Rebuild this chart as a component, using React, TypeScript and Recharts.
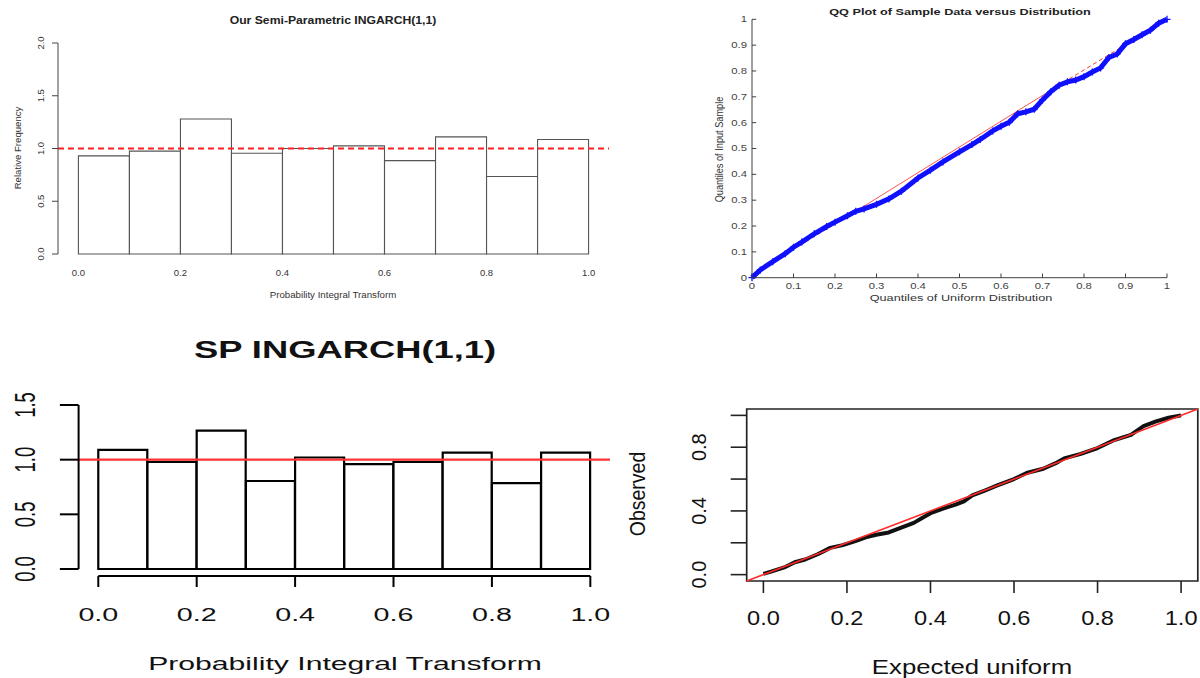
import React from 'react';
import { ComposedChart, Bar, Line, Scatter, XAxis, YAxis, ReferenceLine, ReferenceArea } from 'recharts';

const FONT = '"Liberation Sans", Arial, Helvetica, sans-serif';

// histograms (PIT, 10 bins)
const binMids = [0.05, 0.15, 0.25, 0.35, 0.45, 0.55, 0.65, 0.75, 0.85, 0.95];
const semiParFreq = [0.93, 0.975, 1.28, 0.955, 1.0, 1.025, 0.885, 1.11, 0.735, 1.085];
const spFreq = [1.09, 0.98, 1.265, 0.805, 1.02, 0.96, 0.98, 1.065, 0.785, 1.065];
const pitTicks = [0, 0.2, 0.4, 0.6, 0.8, 1];
const freqTicksTop = [0, 0.5, 1, 1.5, 2];
const freqTicksBottom = [0, 0.5, 1, 1.5];

// QQ plot (matlab style)
const uniformQ = [0, 0.02, 0.05, 0.08, 0.1, 0.12, 0.15, 0.18, 0.2, 0.23, 0.25, 0.27, 0.3, 0.33, 0.36, 0.4, 0.43, 0.46, 0.5, 0.53, 0.55, 0.58, 0.6, 0.62, 0.64, 0.66, 0.68, 0.7, 0.72, 0.74, 0.76, 0.78, 0.8, 0.82, 0.84, 0.86, 0.88, 0.9, 0.92, 0.94, 0.96, 0.98, 1.0];
const sampleQ = [0, 0.03, 0.062, 0.093, 0.118, 0.138, 0.17, 0.198, 0.215, 0.24, 0.257, 0.266, 0.284, 0.305, 0.335, 0.386, 0.416, 0.448, 0.487, 0.515, 0.535, 0.568, 0.586, 0.602, 0.634, 0.642, 0.652, 0.688, 0.72, 0.745, 0.758, 0.765, 0.778, 0.796, 0.812, 0.852, 0.866, 0.905, 0.922, 0.94, 0.958, 0.985, 1.0];
const qqTicks = [0, 0.1, 0.2, 0.3, 0.4, 0.5, 0.6, 0.7, 0.8, 0.9, 1];
// reference line through the quartiles, extended to the ends
const qqLineX = [0, 0.25, 0.75, 1];
const qqLineY = [0.012, 0.257, 0.755, 1.0];

// uniform QQ (R style)
const expectedU = [0, 0.02, 0.05, 0.075, 0.1, 0.13, 0.16, 0.19, 0.22, 0.25, 0.27, 0.3, 0.33, 0.36, 0.38, 0.4, 0.43, 0.46, 0.48, 0.5, 0.53, 0.56, 0.6, 0.63, 0.67, 0.7, 0.72, 0.76, 0.8, 0.84, 0.88, 0.91, 0.94, 0.97, 1.0];
const observedU = [0.005, 0.02, 0.045, 0.078, 0.095, 0.128, 0.168, 0.185, 0.21, 0.238, 0.25, 0.265, 0.295, 0.325, 0.355, 0.386, 0.415, 0.44, 0.46, 0.498, 0.528, 0.56, 0.6, 0.638, 0.665, 0.7, 0.73, 0.758, 0.795, 0.845, 0.878, 0.932, 0.962, 0.985, 1.0];
const unifTicks = [0, 0.2, 0.4, 0.6, 0.8, 1];
const unifLabelled = [0, 0.4, 0.8];

const histTop = binMids.map((m, i) => ({ mid: m, freq: semiParFreq[i] }));
const histBottom = binMids.map((m, i) => ({ mid: m, freq: spFreq[i] }));
const qqData = uniformQ.map((x, i) => ({ x, y: sampleQ[i] }));
const qqSolid = qqLineX.slice(1, 3).map((x, i) => ({ x, y: qqLineY[i + 1] }));
const qqDashLo = qqLineX.slice(0, 2).map((x, i) => ({ x, y: qqLineY[i] }));
const qqDashHi = qqLineX.slice(2, 4).map((x, i) => ({ x, y: qqLineY[i + 2] }));
const unifData = expectedU.map((x, i) => ({ x, y: observedU[i] }));

const Txt = ({ x, y, size, sx = 1, rot = 0, anchor = 'middle', weight = 400, fill = '#000', children }: any) => (
  <text
    transform={`translate(${x} ${y}) scale(${sx} 1) rotate(${rot})`}
    fontSize={size}
    fontFamily={FONT}
    fontWeight={weight}
    fill={fill}
    textAnchor={anchor}
    dominantBaseline="central"
  >
    {children}
  </text>
);

const fmt1 = (v: number) => v.toFixed(1);
const fmtQQ = (v: number) => (v === 0 || v === 1 ? String(v) : v.toFixed(1));

export default function App() {
  return (
    <div style={{ position: 'absolute', left: 0, top: 0, width: 1200, height: 678, background: '#fff', overflow: 'hidden' }}>
      {/* top left: semi-parametric histogram */}
      <div style={{ position: 'absolute', left: 0, top: 0 }}>
        <ComposedChart width={620} height={310} data={histTop} margin={{ top: 43, right: 11, bottom: 26, left: 8 }} barCategoryGap={0} barGap={0}>
          <XAxis
            dataKey="mid"
            type="number"
            domain={[-0.04, 1.04]}
            ticks={pitTicks}
            interval={0}
            axisLine={false}
            tickLine={false}
            height={30}
            tick={(p: any) => <Txt x={p.x} y={272} size={9.5} fill="#333">{fmt1(p.payload.value)}</Txt>}
          />
          <YAxis
            type="number"
            domain={[0, 2]}
            ticks={freqTicksTop}
            interval={0}
            width={50}
            tickSize={6}
            stroke="#444"
            tick={(p: any) => <Txt x={40} y={p.y} size={9.5} rot={-90} fill="#333">{fmt1(p.payload.value)}</Txt>}
          />
          <Bar dataKey="freq" fill="#fff" stroke="#555" strokeWidth={1.1} isAnimationActive={false} />
          <ReferenceLine y={1} stroke="#ff2020" strokeWidth={1.8} strokeDasharray="6 4" />
        </ComposedChart>
      </div>

      {/* top right: QQ plot */}
      <div style={{ position: 'absolute', left: 600, top: 0 }}>
        <ComposedChart width={600} height={310} margin={{ top: 19.3, right: 33, bottom: 12.3, left: 92 }}>
          <XAxis
            dataKey="x"
            type="number"
            domain={[0, 1]}
            ticks={qqTicks}
            interval={0}
            height={20}
            stroke="#404040"
            tickLine={false}
            tick={(p: any) => (
              <g>
                <line x1={p.x} x2={p.x} y1={277.7} y2={273.5} stroke="#404040" />
                <Txt x={p.x} y={286} size={8.2} sx={1.38} fill="#444">{fmtQQ(p.payload.value)}</Txt>
              </g>
            )}
          />
          <YAxis
            type="number"
            domain={[0, 1]}
            ticks={qqTicks}
            interval={0}
            width={60}
            stroke="#404040"
            tickLine={false}
            tick={(p: any) => (
              <g>
                <line x1={152} x2={156.2} y1={p.y} y2={p.y} stroke="#404040" />
                <Txt x={147} y={p.y} size={8.2} sx={1.38} anchor="end" fill="#444">{fmtQQ(p.payload.value)}</Txt>
              </g>
            )}
          />
          <Line data={qqDashLo} dataKey="y" stroke="#ff3030" strokeWidth={1} strokeDasharray="4 3" dot={false} isAnimationActive={false} />
          <Line data={qqDashHi} dataKey="y" stroke="#ff3030" strokeWidth={1} strokeDasharray="4 3" dot={false} isAnimationActive={false} />
          <Scatter
            data={qqData}
            dataKey="y"
            fill="#1010ff"
            line={{ stroke: '#1010ff', strokeWidth: 5 }}
            isAnimationActive={false}
            shape={(p: any) => (
              <path d={`M${p.cx - 3.5},${p.cy}h7M${p.cx},${p.cy - 3.5}v7`} stroke="#1010ff" strokeWidth={1.3} />
            )}
          />
          <Line data={qqSolid} dataKey="y" stroke="#ff4040" strokeWidth={0.9} dot={false} isAnimationActive={false} />
        </ComposedChart>
      </div>

      {/* bottom left: SP INGARCH histogram */}
      <div style={{ position: 'absolute', left: 0, top: 330 }}>
        <ComposedChart width={620} height={348} data={histBottom} margin={{ top: 75, right: 10, bottom: 49, left: 18.6 }} barCategoryGap={0} barGap={0}>
          <XAxis
            dataKey="mid"
            type="number"
            domain={[-0.04, 1.04]}
            ticks={pitTicks}
            interval={0}
            axisLine={false}
            tickLine={false}
            height={60}
            tick={(p: any) => (
              <g>
                <line x1={p.x} x2={p.x} y1={246} y2={257} stroke="#000" strokeWidth={2} />
                <Txt x={p.x} y={284} size={18.5} sx={1.55} fill="#111">{fmt1(p.payload.value)}</Txt>
              </g>
            )}
          />
          <YAxis
            type="number"
            domain={[0, 1.5]}
            ticks={freqTicksBottom}
            interval={0}
            width={60}
            tickSize={18.7}
            axisLine={{ stroke: '#000', strokeWidth: 2 }}
            tickLine={{ stroke: '#000', strokeWidth: 2 }}
            tick={(p: any) => <Txt x={25} y={p.y} size={18.5} sx={1.59} rot={-90} fill="#111">{fmt1(p.payload.value)}</Txt>}
          />
          <ReferenceLine segment={[{ x: 0, y: -0.064 }, { x: 1, y: -0.064 }]} ifOverflow="visible" stroke="#000" strokeWidth={2} />
          <Bar dataKey="freq" fill="#fff" stroke="#000" strokeWidth={2.2} isAnimationActive={false} />
          <ReferenceLine y={1} stroke="#ff3535" strokeWidth={2.2} />
        </ComposedChart>
      </div>

      {/* bottom right: uniform QQ */}
      <div style={{ position: 'absolute', left: 600, top: 380 }}>
        <ComposedChart width={600} height={298} margin={{ top: 29, right: 2.2, bottom: 47, left: 66.7 }}>
          <XAxis
            dataKey="x"
            type="number"
            domain={[-0.04, 1.04]}
            ticks={unifTicks}
            interval={0}
            height={50}
            axisLine={false}
            tickSize={12}
            tickLine={{ stroke: '#222', strokeWidth: 1.6 }}
            tick={(p: any) => <Txt x={p.x} y={238} size={20} sx={1.18} fill="#111">{fmt1(p.payload.value)}</Txt>}
          />
          <YAxis
            type="number"
            domain={[-0.04, 1.04]}
            ticks={unifTicks}
            interval={0}
            width={80}
            axisLine={false}
            tickSize={16}
            tickLine={{ stroke: '#222', strokeWidth: 1.6 }}
            tick={(p: any) =>
              unifLabelled.includes(p.payload.value) ? (
                <Txt x={98.3} y={p.y} size={20} sx={1.05} rot={-90} fill="#111">{fmt1(p.payload.value)}</Txt>
              ) : (
                <g />
              )
            }
          />
          <ReferenceArea x1={-0.04} x2={1.04} y1={-0.04} y2={1.04} fill="none" stroke="#222" strokeWidth={1.7} />
          <Line data={unifData} dataKey="y" stroke="#111" strokeWidth={4} strokeLinejoin="round" dot={false} isAnimationActive={false} />
          <ReferenceLine segment={[{ x: -0.04, y: -0.04 }, { x: 1.04, y: 1.04 }]} stroke="#ff2a2a" strokeWidth={1.6} />
        </ComposedChart>
      </div>

      {/* titles and axis labels */}
      <svg width={1200} height={678} style={{ position: 'absolute', left: 0, top: 0, pointerEvents: 'none' }}>
        <Txt x={333} y={20} size={11.3} sx={1.08} weight={700} fill="#222">Our Semi-Parametric INGARCH(1,1)</Txt>
        <Txt x={333} y={294} size={9.7} fill="#333">Probability Integral Transform</Txt>
        <Txt x={17} y={148} size={9.6} rot={-90} fill="#333">Relative Frequency</Txt>

        <Txt x={960} y={12} size={9.2} sx={1.38} weight={700} fill="#222">QQ Plot of Sample Data versus Distribution</Txt>
        <Txt x={961} y={298} size={9.2} sx={1.38} fill="#333">Quantiles of Uniform Distribution</Txt>
        <Txt x={719.4} y={149.5} size={9.2} sx={1.1} rot={-90} fill="#333">Quantiles of Input Sample</Txt>

        <Txt x={345} y={350} size={23} sx={1.58} weight={700} fill="#111">SP INGARCH(1,1)</Txt>
        <Txt x={345} y={663} size={18.5} sx={1.63} fill="#111">Probability Integral Transform</Txt>

        <Txt x={972} y={667} size={19.5} sx={1.32} fill="#111">Expected uniform</Txt>
        <Txt x={637.3} y={494} size={19.5} sx={1.1} rot={-90} fill="#111">Observed</Txt>
      </svg>
    </div>
  );
}
